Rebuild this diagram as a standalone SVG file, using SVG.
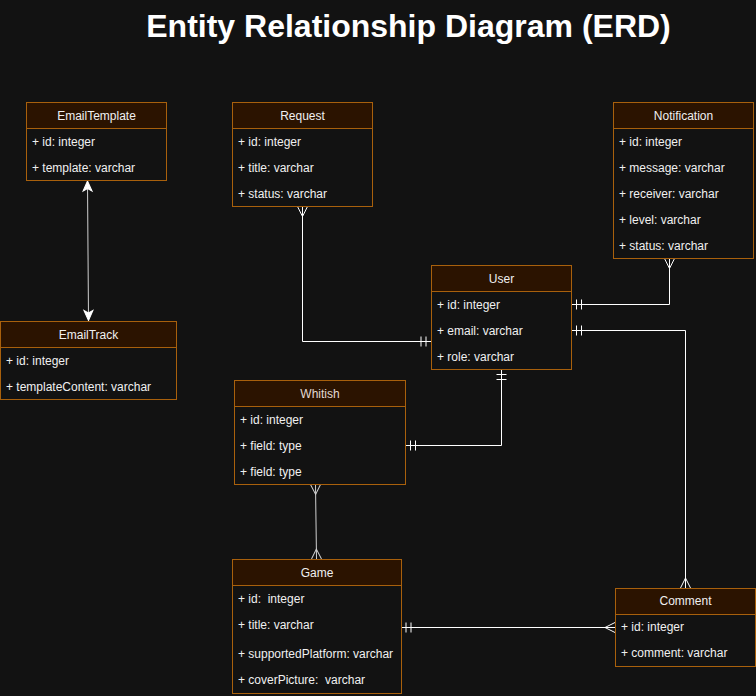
<svg xmlns="http://www.w3.org/2000/svg" width="756" height="696" viewBox="0 0 756 696">
<style>
.bg{fill:#121212}
.box{fill:#121212;stroke:#a8600c;stroke-width:1}
.hdr{fill:#2b1300;stroke:#a8600c;stroke-width:1}
.ht{font-family:"Liberation Sans",Arial,sans-serif;font-size:12px;fill:#f0f0f0;text-anchor:middle}
.rt{font-family:"Liberation Sans",Arial,sans-serif;font-size:12px;fill:#f0f0f0;white-space:pre}
.title{font-family:"Liberation Sans",Arial,sans-serif;font-size:32px;font-weight:bold;fill:#ffffff;text-anchor:middle}
.ln{fill:none;stroke:#ffffff;stroke-width:1}
.lg{fill:none;stroke:#d0d0d0;stroke-width:1}
</style>
<defs>
<marker id="one" viewBox="-12 -6 14 12" refX="0" refY="0" markerWidth="14" markerHeight="12" markerUnits="userSpaceOnUse" orient="auto-start-reverse" overflow="visible">
<path d="M-5,-5V5M-10,-5V5" fill="none" stroke="#ffffff" stroke-width="1"/>
</marker>
<marker id="many" viewBox="-12 -6 14 12" refX="0" refY="0" markerWidth="14" markerHeight="12" markerUnits="userSpaceOnUse" orient="auto-start-reverse" overflow="visible">
<path d="M0,-5L-10,0L0,5" fill="none" stroke="#ffffff" stroke-width="1"/>
</marker>
<marker id="manyg" viewBox="-12 -6 14 12" refX="0" refY="0" markerWidth="14" markerHeight="12" markerUnits="userSpaceOnUse" orient="auto-start-reverse" overflow="visible">
<path d="M0,-5L-10,0L0,5" fill="none" stroke="#d0d0d0" stroke-width="1"/>
</marker>
<marker id="arr" viewBox="-12 -6 14 12" refX="0" refY="0" markerWidth="14" markerHeight="12" markerUnits="userSpaceOnUse" orient="auto-start-reverse" overflow="visible">
<path d="M0,0L-10,-4.5L-7.5,0L-10,4.5Z" fill="#ffffff" stroke="#ffffff" stroke-width="1"/>
</marker>
</defs>
<rect class="bg" x="0" y="0" width="756" height="696"/>
<text class="title" x="408.5" y="37">Entity Relationship Diagram (ERD)</text>

<g id="connectors">
<path class="lg" d="M87.5,181 L88.5,320.5" marker-start="url(#arr)" marker-end="url(#arr)"/>
<path class="ln" d="M302.5,206.5 V341.5 H431" marker-start="url(#many)" marker-end="url(#one)"/>
<path class="ln" d="M669.5,258.5 V304.5 H571.5" marker-start="url(#many)" marker-end="url(#one)"/>
<path class="ln" d="M571.5,330.5 H685.5 V588" marker-start="url(#one)" marker-end="url(#many)"/>
<path class="ln" d="M501.5,369.5 V445.5 H405.5" marker-start="url(#one)" marker-end="url(#one)"/>
<path class="lg" d="M315.5,484.5 L316.5,559" marker-start="url(#manyg)" marker-end="url(#manyg)"/>
<path class="ln" d="M401,627.5 H615" marker-start="url(#one)" marker-end="url(#many)"/>
</g>

<g id="EmailTemplate">
<rect class="box" x="26.5" y="102.5" width="140" height="78"/>
<rect class="hdr" x="26.5" y="102.5" width="140" height="26"/>
<text class="ht" x="96.5" y="120">EmailTemplate</text>
<text class="rt" x="32" y="145.5">+ id: integer</text>
<text class="rt" x="32" y="171.5">+ template: varchar</text>
</g>

<g id="Request">
<rect class="box" x="232.5" y="102.5" width="140" height="104"/>
<rect class="hdr" x="232.5" y="102.5" width="140" height="26"/>
<text class="ht" x="302.5" y="120">Request</text>
<text class="rt" x="238" y="145.5">+ id: integer</text>
<text class="rt" x="238" y="171.5">+ title: varchar</text>
<text class="rt" x="238" y="197.5">+ status: varchar</text>
</g>

<g id="Notification">
<rect class="box" x="613.5" y="102.5" width="140" height="156"/>
<rect class="hdr" x="613.5" y="102.5" width="140" height="26"/>
<text class="ht" x="683.5" y="120">Notification</text>
<text class="rt" x="619" y="145.5">+ id: integer</text>
<text class="rt" x="619" y="171.5">+ message: varchar</text>
<text class="rt" x="619" y="197.5">+ receiver: varchar</text>
<text class="rt" x="619" y="223.5">+ level: varchar</text>
<text class="rt" x="619" y="249.5">+ status: varchar</text>
</g>

<g id="User">
<rect class="box" x="431.5" y="265.5" width="140" height="104"/>
<rect class="hdr" x="431.5" y="265.5" width="140" height="26"/>
<text class="ht" x="501.5" y="283">User</text>
<text class="rt" x="437" y="308.5">+ id: integer</text>
<text class="rt" x="437" y="334.5">+ email: varchar</text>
<text class="rt" x="437" y="360.5">+ role: varchar</text>
</g>

<g id="EmailTrack">
<rect class="box" x="0.5" y="321.5" width="176" height="78"/>
<rect class="hdr" x="0.5" y="321.5" width="176" height="26"/>
<text class="ht" x="88.5" y="339">EmailTrack</text>
<text class="rt" x="6" y="364.5">+ id: integer</text>
<text class="rt" x="6" y="390.5">+ templateContent: varchar</text>
</g>

<g id="Whitish">
<rect class="box" x="234.5" y="380.5" width="171" height="104"/>
<rect class="hdr" x="234.5" y="380.5" width="171" height="26"/>
<text class="ht" x="320" y="398" style="fill:#e2dad4">Whitish</text>
<text class="rt" x="240" y="423.5">+ id: integer</text>
<text class="rt" x="240" y="449.5">+ field: type</text>
<text class="rt" x="240" y="475.5">+ field: type</text>
</g>

<g id="Game">
<rect class="box" x="232.5" y="559.5" width="169" height="134"/>
<rect class="hdr" x="232.5" y="559.5" width="169" height="26"/>
<text class="ht" x="317" y="577">Game</text>
<text class="rt" x="238" y="603" xml:space="preserve">+ id:  integer</text>
<text class="rt" x="238" y="629">+ title: varchar</text>
<text class="rt" x="238" y="658">+ supportedPlatform: varchar</text>
<text class="rt" x="238" y="684" xml:space="preserve">+ coverPicture:  varchar</text>
</g>

<g id="Comment">
<rect class="box" x="615.5" y="588.5" width="140" height="78"/>
<rect class="hdr" x="615.5" y="588.5" width="140" height="26"/>
<text class="ht" x="685.5" y="605">Comment</text>
<text class="rt" x="621" y="631">+ id: integer</text>
<text class="rt" x="621" y="657">+ comment: varchar</text>
</g>
</svg>
